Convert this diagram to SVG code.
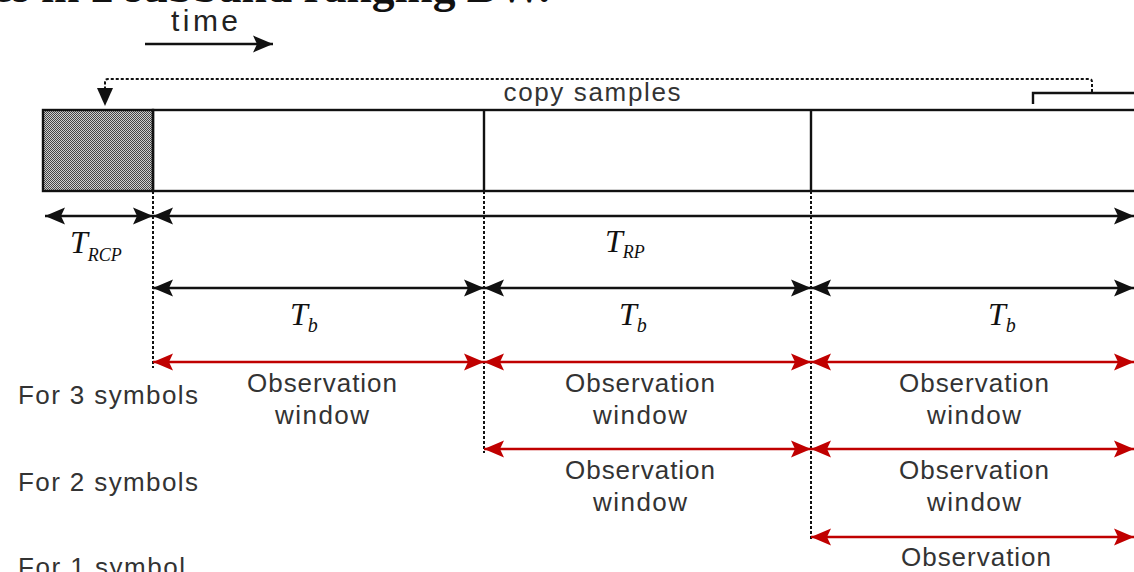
<svg xmlns="http://www.w3.org/2000/svg" width="1134" height="572" viewBox="0 0 1134 572">
<style>
.lbl{font-family:"Liberation Sans",Arial,sans-serif;font-size:26px;fill:#333}
.obs{font-family:"Liberation Sans",Arial,sans-serif;font-size:26px;fill:#333;text-anchor:middle}
.tm{font-family:"Liberation Serif","Times New Roman",serif;font-style:italic;fill:#111}
.blk{stroke:#111;stroke-width:2.6;fill:none}
.red{stroke:#c00000;stroke-width:2.6;fill:none}
.dot{stroke:#111;stroke-width:2;stroke-dasharray:3 2;fill:none}
</style>
<defs>
<pattern id="hatch" width="2" height="2" patternUnits="userSpaceOnUse">
<rect width="2" height="2" fill="#cfcfcf"/>
<rect width="1" height="1" fill="#444"/>
<rect x="1" y="1" width="1" height="1" fill="#444"/>
</pattern>
<marker id="ab" viewBox="0 0 20 18" refX="20" refY="9" markerWidth="20" markerHeight="18" markerUnits="userSpaceOnUse" orient="auto-start-reverse">
<path d="M0,0.5 L20,9 L0,17.5 L4,9 z" fill="#111"/>
</marker>
<marker id="ar" viewBox="0 0 20 18" refX="20" refY="9" markerWidth="20" markerHeight="18" markerUnits="userSpaceOnUse" orient="auto-start-reverse">
<path d="M0,0.5 L20,9 L0,17.5 L4,9 z" fill="#c00000"/>
</marker>
</defs>
<rect width="1134" height="572" fill="#fff"/>

<g id="title">
<text x="-8" y="2" font-family="'Liberation Serif','Times New Roman',serif" font-weight="bold" font-size="46" textLength="558" lengthAdjust="spacingAndGlyphs" fill="#111">es in 2 subband ranging BW.</text>
</g>

<g id="time">
<text x="171" y="31" font-family="'Liberation Sans',Arial,sans-serif" font-size="30" fill="#222" textLength="67" lengthAdjust="spacing">time</text>
<line x1="145" y1="44" x2="273" y2="44" class="blk" marker-end="url(#ab)"/>
</g>

<g id="frame">
<rect x="43" y="110" width="110" height="81" fill="url(#hatch)" stroke="#111" stroke-width="2.4"/>
<rect x="153" y="110" width="1000" height="81" fill="none" stroke="#111" stroke-width="2.4"/>
<line x1="484" y1="110" x2="484" y2="191" stroke="#111" stroke-width="2.4"/>
<line x1="811" y1="110" x2="811" y2="191" stroke="#111" stroke-width="2.4"/>
<path d="M1033,104 L1033,93 L1140,93" stroke="#111" stroke-width="2.4" fill="none"/>
</g>

<g id="copy">
<path d="M1092,92 L1092,82 Q1092,79 1089,79 L108,79 Q105,79 105,82 L105,89" class="dot"/>
<path d="M97,88 L113,88 L105,106 z" fill="#111"/>
<text x="592" y="101" text-anchor="middle" class="lbl" textLength="177" lengthAdjust="spacing">copy samples</text>
</g>

<g id="connectors">
<line x1="153" y1="191" x2="153" y2="368" class="dot"/>
<line x1="484" y1="191" x2="484" y2="453" class="dot"/>
<line x1="811" y1="191" x2="811" y2="541" class="dot"/>
<line x1="45" y1="216" x2="153" y2="216" class="blk" marker-start="url(#ab)" marker-end="url(#ab)"/>
<line x1="153" y1="216" x2="1134" y2="216" class="blk" marker-start="url(#ab)" marker-end="url(#ab)"/>
<line x1="153" y1="288" x2="484" y2="288" class="blk" marker-start="url(#ab)" marker-end="url(#ab)"/>
<line x1="484" y1="288" x2="811" y2="288" class="blk" marker-start="url(#ab)" marker-end="url(#ab)"/>
<line x1="811" y1="288" x2="1134" y2="288" class="blk" marker-start="url(#ab)" marker-end="url(#ab)"/>
<line x1="153" y1="362" x2="484" y2="362" class="red" marker-start="url(#ar)" marker-end="url(#ar)"/>
<line x1="484" y1="362" x2="811" y2="362" class="red" marker-start="url(#ar)" marker-end="url(#ar)"/>
<line x1="811" y1="362" x2="1134" y2="362" class="red" marker-start="url(#ar)" marker-end="url(#ar)"/>
<line x1="484" y1="449" x2="811" y2="449" class="red" marker-start="url(#ar)" marker-end="url(#ar)"/>
<line x1="811" y1="449" x2="1134" y2="449" class="red" marker-start="url(#ar)" marker-end="url(#ar)"/>
<line x1="811" y1="537" x2="1134" y2="537" class="red" marker-start="url(#ar)" marker-end="url(#ar)"/>
</g>

<g id="timelabels">
<text x="70" y="253" class="tm" font-size="32">T<tspan font-size="18" dy="8">RCP</tspan></text>
<text x="605" y="252" class="tm" font-size="32">T<tspan font-size="18" dy="6">RP</tspan></text>
<text x="290" y="325" class="tm" font-size="32">T<tspan font-size="20" dy="7">b</tspan></text>
<text x="619" y="325" class="tm" font-size="32">T<tspan font-size="20" dy="7">b</tspan></text>
<text x="988" y="325" class="tm" font-size="32">T<tspan font-size="20" dy="7">b</tspan></text>
</g>

<g id="rows">
<text x="18" y="404" class="lbl" textLength="180" lengthAdjust="spacing">For 3 symbols</text>
<text x="18" y="491" class="lbl" textLength="180" lengthAdjust="spacing">For 2 symbols</text>
<text x="18" y="576" class="lbl" textLength="167" lengthAdjust="spacing">For 1 symbol</text>
</g>

<g id="obs">
<text x="322" y="392" class="obs" textLength="150" lengthAdjust="spacing">Observation</text>
<text x="322" y="424" class="obs" textLength="94" lengthAdjust="spacing">window</text>
<text x="640" y="392" class="obs" textLength="150" lengthAdjust="spacing">Observation</text>
<text x="640" y="424" class="obs" textLength="94" lengthAdjust="spacing">window</text>
<text x="974" y="392" class="obs" textLength="150" lengthAdjust="spacing">Observation</text>
<text x="974" y="424" class="obs" textLength="94" lengthAdjust="spacing">window</text>
<text x="640" y="479" class="obs" textLength="150" lengthAdjust="spacing">Observation</text>
<text x="640" y="511" class="obs" textLength="94" lengthAdjust="spacing">window</text>
<text x="974" y="479" class="obs" textLength="150" lengthAdjust="spacing">Observation</text>
<text x="974" y="511" class="obs" textLength="94" lengthAdjust="spacing">window</text>
<text x="976" y="566" class="obs" textLength="150" lengthAdjust="spacing">Observation</text>
</g>
</svg>
